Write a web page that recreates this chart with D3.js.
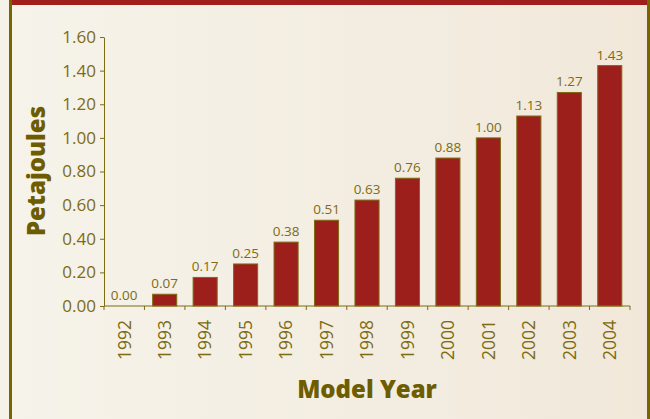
<!DOCTYPE html>
<html>
<head>
<meta charset="utf-8">
<script src="https://cdn.jsdelivr.net/npm/d3@7"></script>
<style>
  html, body { margin: 0; padding: 0; background: #f5f2e9; }
  svg { display: block; }
  text { font-family: "Open Sans", "Noto Sans", sans-serif; }
</style>
</head>
<body>
<svg id="chart" width="650" height="419"></svg>
<script>
// Energy by model year
const years = ["1992","1993","1994","1995","1996","1997","1998","1999","2000","2001","2002","2003","2004"];
const petajoules = [0.00, 0.07, 0.17, 0.25, 0.38, 0.51, 0.63, 0.76, 0.88, 1.00, 1.13, 1.27, 1.43];
const yTicks = [0, 0.2, 0.4, 0.6, 0.8, 1.0, 1.2, 1.4, 1.6];

const olive = "#7d6c12";
const titleOlive = "#6e5c00";
const barRed = "#9c1f1c";

const svg = d3.select("#chart");

// panel background with soft horizontal gradient
const defs = svg.append("defs");
const grad = defs.append("linearGradient").attr("id", "bg").attr("x1", "0").attr("x2", "1").attr("y1", "0").attr("y2", "0");
grad.append("stop").attr("offset", "0").attr("stop-color", "#f6f3ea");
grad.append("stop").attr("offset", "1").attr("stop-color", "#f1e8da");

svg.append("rect").attr("x", 0).attr("y", 0).attr("width", 650).attr("height", 419).attr("fill", "#f5f2e9");
svg.append("rect").attr("x", 12).attr("y", 0).attr("width", 636).attr("height", 419).attr("fill", "url(#bg)");
// frame: left and right rules, red band on top
svg.append("rect").attr("x", 9).attr("y", 0).attr("width", 3).attr("height", 419).attr("fill", "#786400");
svg.append("rect").attr("x", 647).attr("y", 0).attr("width", 3).attr("height", 419).attr("fill", "#786400");
svg.append("rect").attr("x", 12).attr("y", 0).attr("width", 635).attr("height", 5).attr("fill", "#a01e1c");

const x = d3.scaleBand().domain(years).range([104, 630]).paddingInner(0.38).paddingOuter(0.19);
const y = d3.scaleLinear().domain([0, 1.6]).range([306, 37]);

// y axis
const yAxis = svg.append("g").attr("transform", "translate(104,0)")
  .call(d3.axisLeft(y).tickValues(yTicks).tickFormat(d3.format(".2f")).tickSize(4).tickSizeOuter(0).tickPadding(4));
yAxis.select(".domain").attr("stroke", olive);
yAxis.selectAll(".tick line").attr("stroke", olive);
yAxis.selectAll(".tick text").attr("fill", olive).attr("font-size", 17).attr("font-family", "'Open Sans', sans-serif");

// bars
svg.append("g").selectAll("rect").data(years).join("rect")
  .attr("x", d => x(d) + 0.5)
  .attr("y", (d, i) => y(petajoules[i]))
  .attr("width", x.bandwidth() - 1)
  .attr("height", (d, i) => y(0) - y(petajoules[i]))
  .attr("fill", barRed)
  .attr("stroke", olive)
  .attr("stroke-width", 1);

// value labels
svg.append("g").selectAll("text").data(years).join("text")
  .attr("x", d => x(d) + x.bandwidth() / 2)
  .attr("y", (d, i) => y(petajoules[i]) - 6)
  .attr("text-anchor", "middle")
  .attr("fill", olive)
  .attr("font-size", 13.5)
  .text((d, i) => petajoules[i].toFixed(2));

// x axis: baseline with ticks on category boundaries
const x0 = x.range()[0], step = x.step();
const xg = svg.append("g");
xg.append("line").attr("x1", 104).attr("x2", 630).attr("y1", 306).attr("y2", 306).attr("stroke", olive);
xg.selectAll("line.tk").data(d3.range(years.length + 1)).join("line").attr("class", "tk")
  .attr("x1", i => x0 + i * step).attr("x2", i => x0 + i * step)
  .attr("y1", 306).attr("y2", 310).attr("stroke", olive);
xg.selectAll("text").data(years).join("text")
  .attr("transform", d => `translate(${x(d) + x.bandwidth() / 2},320) rotate(-90)`)
  .attr("text-anchor", "end")
  .attr("dy", "0.36em")
  .attr("fill", olive)
  .attr("font-size", 17.5)
  .text(d => d);

// axis titles
svg.append("text")
  .attr("x", 367).attr("y", 398)
  .attr("text-anchor", "middle")
  .attr("fill", titleOlive)
  .attr("font-size", 24)
  .attr("font-weight", 800)
  .text("Model Year");

svg.append("text")
  .attr("transform", "translate(45,171) rotate(-90)")
  .attr("text-anchor", "middle")
  .attr("fill", titleOlive)
  .attr("font-size", 24)
  .attr("font-weight", 800)
  .text("Petajoules");
</script>
</body>
</html>
